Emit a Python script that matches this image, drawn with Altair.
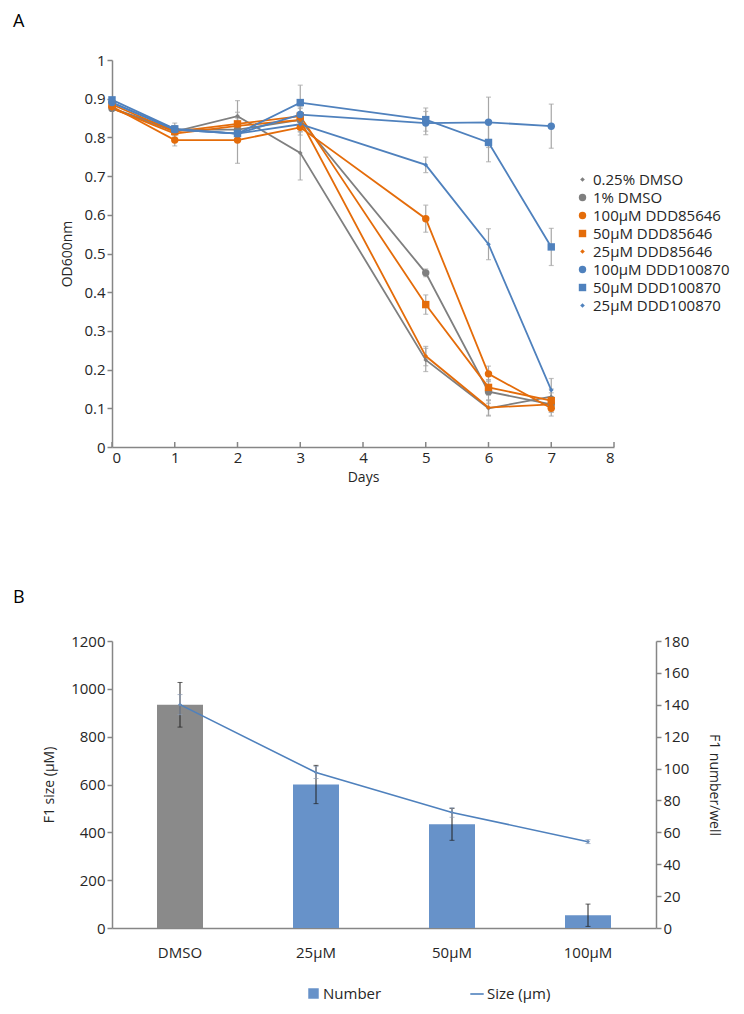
import altair as alt
import pandas as pd

FONT = "Open Sans"
GRAY = "#7f7f7f"
ORANGE = "#e46c0a"
BLUE = "#4f81bd"
TXT = "#262626"
AXC = "#868686"

panel_labels = ["A", "B"]

# ---------------- Panel A data ----------------
days = [0, 1, 2, 3, 5, 6, 7]
series_names = ["0.25% DMSO", "1% DMSO", "100µM DDD85646", "50µM DDD85646",
                "25µM DDD85646", "100µM DDD100870", "50µM DDD100870", "25µM DDD100870"]
od_025dmso = [0.875, 0.815, 0.855, 0.760, 0.225, 0.100, 0.130]
od_1dmso = [0.875, 0.820, 0.820, 0.845, 0.450, 0.143, 0.110]
od_85646_100 = [0.880, 0.793, 0.793, 0.826, 0.590, 0.189, 0.100]
od_85646_50 = [0.885, 0.815, 0.835, 0.855, 0.368, 0.154, 0.120]
od_85646_25 = [0.875, 0.810, 0.830, 0.845, 0.235, 0.102, 0.110]
od_100870_100 = [0.890, 0.820, 0.810, 0.859, 0.837, 0.839, 0.829]
od_100870_50 = [0.897, 0.822, 0.810, 0.890, 0.846, 0.787, 0.517]
od_100870_25 = [0.890, 0.820, 0.810, 0.834, 0.729, 0.524, 0.147]

err_025dmso = [0.005, 0.015, 0.040, 0.070, 0.030, 0.020, 0.020]
err_1dmso = [0.005, 0.010, 0.020, 0.030, 0.010, 0.030, 0.020]
err_85646_100 = [0.005, 0.015, 0.060, 0.020, 0.035, 0.020, 0.020]
err_85646_50 = [0.005, 0.010, 0.030, 0.030, 0.025, 0.020, 0.020]
err_85646_25 = [0.005, 0.010, 0.020, 0.020, 0.025, 0.020, 0.020]
err_100870_100 = [0.005, 0.010, 0.020, 0.020, 0.030, 0.065, 0.057]
err_100870_50 = [0.005, 0.015, 0.020, 0.045, 0.030, 0.050, 0.048]
err_100870_25 = [0.005, 0.010, 0.020, 0.020, 0.020, 0.040, 0.030]

series_values = [od_025dmso, od_1dmso, od_85646_100, od_85646_50, od_85646_25,
                 od_100870_100, od_100870_50, od_100870_25]
series_errs = [err_025dmso, err_1dmso, err_85646_100, err_85646_50, err_85646_25,
               err_100870_100, err_100870_50, err_100870_25]
series_colors = [GRAY, GRAY, ORANGE, ORANGE, ORANGE, BLUE, BLUE, BLUE]
SMALL_DIAMOND = "M0,-0.62L0.62,0L0,0.62L-0.62,0Z"
series_shapes = [SMALL_DIAMOND, "circle", "circle", "square", SMALL_DIAMOND,
                 "circle", "square", SMALL_DIAMOND]
y_ticks_a = [round(i * 0.1, 1) for i in range(11)]
x_ticks_a = list(range(9))

# ---------------- Panel B data ----------------
cats = ["DMSO", "25µM", "50µM", "100µM"]
number = [140, 90, 65, 8]
number_err = [14, 12, 10, 7]
size_um = [934, 650, 483, 361]
size_err = [42, 25, 20, 8]
left_ticks_b = list(range(0, 1201, 200))
right_ticks_b = list(range(0, 181, 20))

# ---------------- Build Panel A ----------------
rows = []
for name, vals, errs in zip(series_names, series_values, series_errs):
    for d, v, e in zip(days, vals, errs):
        rows.append(dict(series=name, day=d, od=v, lo=v - e, hi=v + e))
dfA = pd.DataFrame(rows)
endsA = pd.concat([dfA.assign(end=dfA["lo"]), dfA.assign(end=dfA["hi"])])
dfTicks = pd.DataFrame({"day": x_ticks_a})

color_scale = alt.Scale(domain=series_names, range=series_colors)
shape_scale = alt.Scale(domain=series_names, range=series_shapes)
# separate (reversed) domain for the line strokes so that they do not merge with the legend
stroke_scale = alt.Scale(domain=series_names[::-1], range=series_colors[::-1])


def xA(field="day"):
    return alt.X(f"{field}:Q", scale=alt.Scale(domain=[0, 8], nice=False),
                 axis=alt.Axis(values=x_ticks_a, title="Days", ticks=False,
                               labelPadding=3, titlePadding=5))


def yA(field):
    return alt.Y(f"{field}:Q", scale=alt.Scale(domain=[0, 1], nice=False),
                 axis=alt.Axis(values=y_ticks_a, format=".1~f", title="OD600nm", titlePadding=9))


legA = alt.Legend(orient="none", legendX=463, legendY=112, title=None,
                  labelFont=FONT, labelFontSize=15, labelColor=TXT,
                  symbolSize=55, rowPadding=2, labelOffset=3, padding=0)

xTicksA = alt.Chart(dfTicks).mark_rule(color=AXC, strokeWidth=1.5).encode(
    x=xA(), y=alt.value(382), y2=alt.value(387))
errA_rule = alt.Chart(dfA).mark_rule(color="#a6a6a6", strokeWidth=1.2).encode(
    x=xA(), y=yA("lo"), y2="hi:Q")
errA_caps = alt.Chart(endsA).mark_tick(orient="horizontal", size=5, thickness=1.2, color="#a6a6a6").encode(
    x=xA(), y=yA("end"))
linesA = alt.Chart(dfA).mark_line(strokeWidth=1.8).encode(
    x=xA(), y=yA("od"), stroke=alt.Stroke("series:N", scale=stroke_scale, legend=None))
ptsA = alt.Chart(dfA).mark_point(filled=True, opacity=1, size=55).encode(
    x=xA(), y=yA("od"),
    color=alt.Color("series:N", scale=color_scale, legend=legA),
    shape=alt.Shape("series:N", scale=shape_scale, legend=legA))
labelA = alt.Chart(pd.DataFrame({"t": [panel_labels[0]]})).mark_text(
    align="left", baseline="top", fontSize=18, font=FONT, color="#000").encode(
    text="t:N", x=alt.value(-99), y=alt.value(-47))

panelA = alt.layer(xTicksA, errA_rule, errA_caps, linesA, ptsA, labelA).properties(width=502, height=387)

# ---------------- Build Panel B ----------------
dfB = pd.DataFrame(dict(cat=cats, number=number, size=size_um))
dfB["nlo"] = [n - e for n, e in zip(number, number_err)]
dfB["nhi"] = [n + e for n, e in zip(number, number_err)]
dfB["slo"] = [s - e for s, e in zip(size_um, size_err)]
dfB["shi"] = [s + e for s, e in zip(size_um, size_err)]
dfB["ser_n"] = "Number"
dfB["ser_s"] = "Size (µm)"
endsN = pd.concat([dfB.assign(end=dfB["nlo"]), dfB.assign(end=dfB["nhi"])])
endsS = pd.concat([dfB.assign(end=dfB["slo"]), dfB.assign(end=dfB["shi"])])


def xB():
    return alt.X("cat:N", sort=cats, scale=alt.Scale(paddingInner=0, paddingOuter=0),
                 axis=alt.Axis(title=None, labelAngle=0, ticks=False, labelPadding=17, labelFontSize=15))


def yR(field):
    return alt.Y(f"{field}:Q", scale=alt.Scale(domain=[0, 180], nice=False),
                 axis=alt.Axis(orient="right", values=right_ticks_b, format="d",
                               title="F1 number/well", titlePadding=18))


def yL(field):
    return alt.Y(f"{field}:Q", scale=alt.Scale(domain=[0, 1200], nice=False),
                 axis=alt.Axis(orient="left", values=left_ticks_b, format="d",
                               title="F1 size (µM)", titlePadding=14))


bars = alt.Chart(dfB).mark_bar(size=46).encode(
    x=xB(), y=yR("number"),
    fill=alt.condition("datum.cat === 'DMSO'", alt.value("#8a8a8a"),
                       alt.Fill("ser_n:N", scale=alt.Scale(domain=["Number"], range=["#6792c9"]),
                                legend=alt.Legend(orient="none", legendX=194, legendY=345, title=None,
                                                  labelFont=FONT, labelFontSize=15, labelColor=TXT,
                                                  symbolType="square", symbolSize=110, labelOffset=2,
                                                  padding=0, symbolStrokeWidth=0))))
barErr = alt.Chart(dfB).mark_rule(color="#222", strokeWidth=1).encode(
    x=xB(), y=yR("nlo"), y2="nhi:Q")
barCaps = alt.Chart(endsN).mark_tick(orient="horizontal", size=5, thickness=1, color="#222").encode(
    x=xB(), y=yR("end"))
rightLayer = alt.layer(bars, barErr, barCaps)

lineB = alt.Chart(dfB).mark_line(strokeWidth=1.6).encode(
    x=xB(), y=yL("size"),
    stroke=alt.Stroke("ser_s:N", scale=alt.Scale(domain=["Size (µm)"], range=[BLUE]),
                      legend=alt.Legend(orient="none", legendX=357, legendY=345, title=None,
                                        labelFont=FONT, labelFontSize=15, labelColor=TXT,
                                        symbolType="stroke", symbolSize=180, symbolStrokeWidth=1.6,
                                        labelOffset=2, padding=0)))
ptsB = alt.Chart(dfB).mark_point(filled=True, shape="diamond", size=14, color=BLUE, opacity=1).encode(
    x=xB(), y=yL("size"))
lineErr = alt.Chart(dfB).mark_rule(color="#8c9bb3", strokeWidth=1).encode(
    x=xB(), y=yL("slo"), y2="shi:Q")
lineCaps = alt.Chart(endsS).mark_tick(orient="horizontal", size=5, thickness=1, color="#8c9bb3").encode(
    x=xB(), y=yL("end"))
leftLayer = alt.layer(lineB, ptsB, lineErr, lineCaps)

labelB = alt.Chart(pd.DataFrame({"t": [panel_labels[1]]})).mark_text(
    align="left", baseline="top", fontSize=18, font=FONT, color="#000").encode(
    text="t:N", x=alt.value(-99), y=alt.value(-52))

panelB = alt.layer(rightLayer, leftLayer, labelB).resolve_scale(
    y="independent", fill="independent", stroke="independent").properties(width=544, height=287)

chart = alt.vconcat(panelA, panelB, spacing=105).properties(
    padding={"left": 5, "top": 5, "right": 5, "bottom": 5}
).configure_view(stroke=None).configure_axis(
    grid=False, domainColor=AXC, domainWidth=1.5, tickColor=AXC, tickWidth=1.5,
    tickSize=5, labelFont=FONT, titleFont=FONT, labelFontSize=15, titleFontSize=14,
    labelColor=TXT, titleColor=TXT, titleFontWeight="normal"
)

chart.save("out.html", embed_options={"renderer": "svg", "actions": False})
